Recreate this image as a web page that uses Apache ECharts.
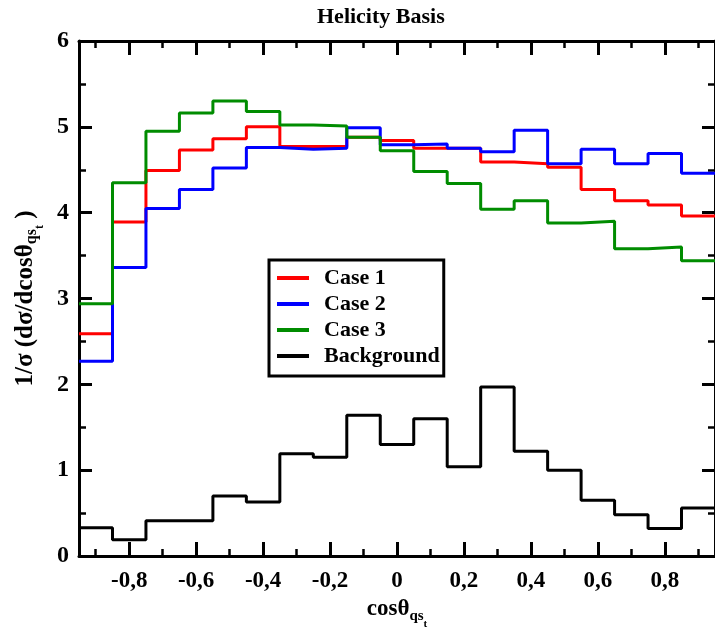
<!DOCTYPE html>
<html>
<head>
<meta charset="utf-8">
<script src="https://cdn.jsdelivr.net/npm/echarts@6/dist/echarts.min.js"></script>
<style>
html,body{margin:0;padding:0;background:#fff;}
#c{width:715px;height:638px;}
</style>
</head>
<body>
<div id="c"></div>
<script>
// Bin edges of cos(theta) histogram
var binEdges = [-0.95,-0.85,-0.75,-0.65,-0.55,-0.45,-0.35,-0.25,-0.15,-0.05,0.05,0.15,0.25,0.35,0.45,0.55,0.65,0.75,0.85,0.95];
var case1 = [2.59,3.89,4.49,4.73,4.86,5.00,4.77,4.77,4.88,4.84,4.75,4.75,4.59,4.57,4.53,4.27,4.14,4.09,3.96];
var case2 = [2.27,3.36,4.05,4.27,4.52,4.76,4.74,4.75,4.99,4.79,4.80,4.75,4.71,4.96,4.57,4.74,4.57,4.69,4.46];
var case3 = [2.94,4.35,4.95,5.16,5.30,5.18,5.02,5.01,4.88,4.72,4.48,4.34,4.04,4.14,3.88,3.90,3.58,3.60,3.44];
var background = [0.33,0.19,0.41,0.41,0.70,0.63,1.19,1.15,1.64,1.30,1.60,1.04,1.97,1.22,1.00,0.65,0.48,0.32,0.56];
var xMajorTicks = [-0.8,-0.6,-0.4,-0.2,0,0.2,0.4,0.6,0.8];
var xMinorTicks = [-0.9,-0.7,-0.5,-0.3,-0.1,0.1,0.3,0.5,0.7,0.9];
var seriesNames = ['Case 1','Case 2','Case 3','Background'];
var seriesColors = ['#ff0000','#0000ff','#008c00','#000000'];

function stepData(vals){
  var d = [];
  for (var i = 0; i < vals.length; i++) d.push([binEdges[i], vals[i]]);
  d.push([binEdges[vals.length], vals[vals.length-1]]);
  return d;
}

var FONT = 'Liberation Serif';
var txt = {fontFamily: FONT, fontWeight: 'bold', color: '#000'};
function mk(o){ var r = {}; for (var k in txt) r[k] = txt[k]; for (var k2 in o) r[k2] = o[k2]; return r; }

var gridBox = {left: 79, top: 41, right: -5, bottom: 82};
var axisLineStyle = {show: true, onZero: false, lineStyle: {color: '#000', width: 3}};

var chart = echarts.init(document.getElementById('c'), null, {renderer: 'canvas'});
var allSeries = [case1, case2, case3, background];

chart.setOption({
  animation: false,
  backgroundColor: '#fff',
  title: {
    text: 'Helicity Basis', left: 317, top: 6, padding: 0,
    textStyle: mk({fontSize: 22})
  },
  legend: {
    orient: 'vertical', left: 269, top: 260,
    data: seriesNames.map(function(n){ return {name: n, icon: 'rect'}; }),
    itemWidth: 32, itemHeight: 4, itemGap: 4,
    borderColor: '#000', borderWidth: 3, padding: [7, 4, 9, 8],
    textStyle: mk({fontSize: 22, lineHeight: 22, padding: [0, 0, 0, 10]})
  },
  grid: [
    {left: gridBox.left, top: gridBox.top, right: gridBox.right, bottom: gridBox.bottom},
    {left: gridBox.left, top: gridBox.top, right: gridBox.right, bottom: gridBox.bottom}
  ],
  xAxis: [
    {
      type: 'value', gridIndex: 0, position: 'bottom', min: -0.95, max: 0.95,
      axisLine: axisLineStyle,
      axisTick: {show: true, inside: true, length: 14, lineStyle: {color: '#000', width: 3}, customValues: xMajorTicks},
      axisLabel: mk({fontSize: 23, margin: 14, customValues: xMajorTicks,
        formatter: function(v){ return String(Math.round(v*10)/10).replace('.', ','); }}),
      splitLine: {show: false},
      name: '{m|cosθ}{s|qs}{t|t}', nameLocation: 'middle', nameGap: 27,
      nameTextStyle: mk({rich: {
        m: mk({fontSize: 23, lineHeight: 40, verticalAlign: 'middle'}),
        s: mk({fontSize: 15, lineHeight: 15, verticalAlign: 'bottom', padding: [0, 0, 6, 0]}),
        t: mk({fontSize: 11, lineHeight: 11, verticalAlign: 'bottom'})
      }})
    },
    {
      type: 'value', gridIndex: 0, position: 'top', min: -0.95, max: 0.95,
      axisLine: axisLineStyle,
      axisTick: {show: true, inside: true, length: 14, lineStyle: {color: '#000', width: 3}, customValues: xMajorTicks},
      axisLabel: {show: false}, splitLine: {show: false}
    },
    {
      type: 'value', gridIndex: 1, position: 'bottom', min: -0.95, max: 0.95,
      axisLine: {show: false},
      axisTick: {show: true, inside: true, length: 7, lineStyle: {color: '#000', width: 2.5}, customValues: xMinorTicks},
      axisLabel: {show: false}, splitLine: {show: false}
    },
    {
      type: 'value', gridIndex: 1, position: 'top', min: -0.95, max: 0.95,
      axisLine: {show: false},
      axisTick: {show: true, inside: true, length: 7, lineStyle: {color: '#000', width: 2.5}, customValues: xMinorTicks},
      axisLabel: {show: false}, splitLine: {show: false}
    }
  ],
  yAxis: [
    {
      type: 'value', gridIndex: 0, position: 'left', min: 0, max: 6, interval: 1,
      axisLine: axisLineStyle,
      axisTick: {show: true, inside: true, length: 13, lineStyle: {color: '#000', width: 3}},
      minorTick: {show: true, splitNumber: 2, length: 7, lineStyle: {color: '#000', width: 2.5}},
      axisLabel: mk({fontSize: 24, margin: 10}),
      splitLine: {show: false}, minorSplitLine: {show: false},
      name: '{m|1/σ (dσ/dcosθ}{s|qs}{t|t}{m| )}', nameLocation: 'middle', nameGap: 28, nameRotate: 90,
      nameTextStyle: mk({rich: {
        m: mk({fontSize: 25, lineHeight: 42, verticalAlign: 'middle'}),
        s: mk({fontSize: 16, lineHeight: 16, verticalAlign: 'bottom', padding: [0, 0, 6, 0]}),
        t: mk({fontSize: 12, lineHeight: 12, verticalAlign: 'bottom'})
      }})
    },
    {
      type: 'value', gridIndex: 0, position: 'right', min: 0, max: 6, interval: 1,
      axisLine: axisLineStyle,
      axisTick: {show: true, inside: true, length: 13, lineStyle: {color: '#000', width: 3}},
      minorTick: {show: true, splitNumber: 2, length: 7, lineStyle: {color: '#000', width: 2.5}},
      axisLabel: {show: false}, splitLine: {show: false}
    },
    {
      type: 'value', gridIndex: 1, min: 0, max: 6, show: false
    }
  ],
  series: allSeries.map(function(vals, i){
    return {
      name: seriesNames[i], type: 'line', step: 'end',
      xAxisIndex: 0, yAxisIndex: 0,
      data: stepData(vals), symbol: 'none', showSymbol: false,
      lineStyle: {color: seriesColors[i], width: 3},
      itemStyle: {color: seriesColors[i]},
      z: 2 + i
    };
  })
});
</script>
</body>
</html>
